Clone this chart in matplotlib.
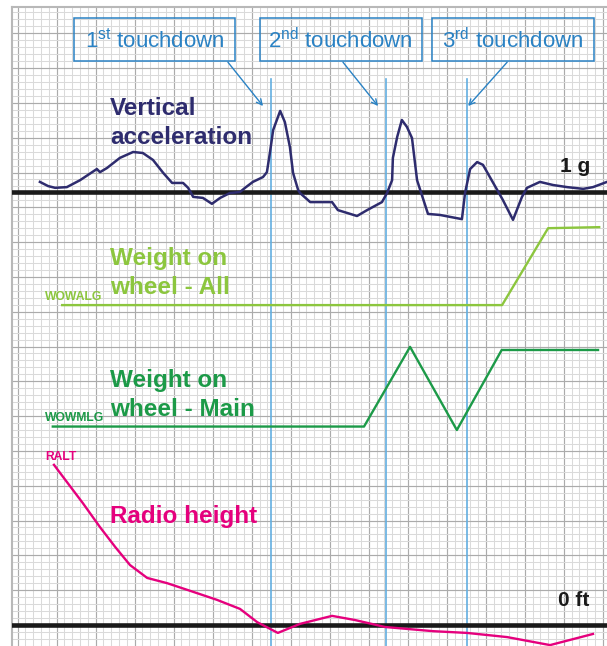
import numpy as np
import matplotlib
matplotlib.use("Agg")
import matplotlib.pyplot as plt
from matplotlib.patches import Rectangle

plt.rcParams['font.family'] = ['Liberation Sans', 'DejaVu Sans']
plt.rcParams['mathtext.fontset'] = 'custom'
plt.rcParams['mathtext.rm'] = 'Liberation Sans'

# x in seconds (1 major grid cell = 1 s), y in grid rows above the 0 ft line
acc_t = [0.57, 0.78, 0.96, 1.26, 1.60, 2.03, 2.11, 2.29, 2.62, 2.96, 3.21, 3.47, 3.73,
         3.96, 4.24, 4.37, 4.50, 4.75, 4.98, 5.19, 5.44, 5.70, 5.83, 6.03, 6.29, 6.39,
         6.47, 6.55, 6.73, 6.85, 6.98, 7.06, 7.19, 7.24, 7.50, 8.06, 8.21, 8.70, 8.96,
         9.34, 9.47, 9.60, 9.62, 9.73, 9.85, 9.98, 10.11, 10.24, 10.52, 10.83, 11.39,
         11.47, 11.60, 11.78, 11.93, 12.37, 12.44, 12.70, 12.93, 13.06, 13.39, 13.73,
         14.09, 14.50, 14.75, 15.11]
acc_v = [12.73, 12.61, 12.56, 12.58, 12.78, 13.10, 13.01, 13.13, 13.42, 13.59, 13.56, 13.36, 12.99,
         12.70, 12.70, 12.56, 12.30, 12.27, 12.10, 12.27, 12.41, 12.44, 12.56, 12.73, 12.87, 13.01,
         13.59, 14.22, 14.77, 14.45, 13.73, 12.99, 12.50, 12.41, 12.15, 12.15, 11.92, 11.75, 11.92,
         12.15, 12.41, 12.78, 13.42, 14.02, 14.51, 14.31, 13.99, 12.78, 11.81, 11.78, 11.66,
         12.41, 13.10, 13.30, 13.22, 12.35, 12.21, 11.64, 12.30, 12.56, 12.73, 12.64,
         12.58, 12.53, 12.58, 12.73]

wowalg_t = [1.14, 12.42, 13.60, 14.91]
wowalg_v = [9.19, 9.19, 11.40, 11.43]

wowmlg_t = [0.90, 8.88, 10.06, 11.26, 12.41, 14.88]
wowmlg_v = [5.70, 5.70, 7.99, 5.60, 7.90, 7.90]

ralt_t = [0.93, 1.67, 2.11, 2.50, 2.88, 3.32, 3.83, 4.50, 5.11, 5.70, 6.14, 6.67, 7.24,
          8.06, 8.65, 9.42, 10.65, 11.52, 12.55, 13.65, 14.75]
ralt_v = [4.60, 3.50, 2.81, 2.24, 1.72, 1.35, 1.20, 0.95, 0.72, 0.46, 0.08, -0.23, 0.03,
          0.26, 0.14, -0.06, -0.18, -0.23, -0.35, -0.58, -0.26]

touchdown_t = [6.49, 9.44, 11.51]
touchdown_labels = ['1$^{\\mathrm{st}}$ touchdown', '2$^{\\mathrm{nd}}$ touchdown',
                    '3$^{\\mathrm{rd}}$ touchdown']
box_left = [1.44, 6.21, 10.62]
box_right = [5.57, 10.36, 14.78]
arrow_start_t = [5.39, 8.34, 12.55]
arrow_end_t = [6.29, 9.24, 11.55]

one_g_level = 12.45
zero_ft_level = 0.0

navy = '#2e2c6e'
light_green = '#8cc63e'
dark_green = '#1c9a48'
magenta = '#e5007d'
blue = '#2a82c4'
line_blue = '#62aee0'

fig = plt.figure(figsize=(6.07, 6.46), dpi=100)
ax = fig.add_axes([12 / 607, 0, 595 / 607, 639 / 646])
ax.set_xlim(-0.146, 15.11)
ax.set_ylim(-0.606, 17.756)

# graph paper
ax.set_xticks(np.arange(0, 16, 1))
ax.set_xticks(np.arange(-0.0, 15.2, 0.2), minor=True)
ax.set_yticks(np.arange(0, 18, 1))
ax.set_yticks(np.arange(-0.6, 17.8, 0.2), minor=True)
ax.grid(which='minor', color='#dadada', lw=0.75)
ax.grid(which='major', color='#ababab', lw=0.85)
ax.tick_params(which='both', length=0, labelbottom=False, labelleft=False)
ax.set_axisbelow(True)
for side in ['right', 'bottom']:
    ax.spines[side].set_visible(False)
for side in ['left', 'top']:
    ax.spines[side].set_color('#b8b8b8')
    ax.spines[side].set_linewidth(1.5)

# reference lines
ax.axhline(one_g_level, color='#1a1a1a', lw=3.3, zorder=3)
ax.axhline(zero_ft_level, color='#1a1a1a', lw=3.3, zorder=3)
ax.text(14.67, 13.02, '1 g', ha='right', va='baseline', fontsize=15, fontweight='bold', color='#1a1a1a')
ax.text(14.67, 0.54, '0 ft', ha='right', va='baseline', fontsize=15, fontweight='bold', color='#1a1a1a')

# touchdown markers
for i in range(len(touchdown_t)):
    ax.plot([touchdown_t[i], touchdown_t[i]], [-1, 15.69], color=line_blue, lw=1.2, zorder=2)
    ax.add_patch(Rectangle((box_left[i], 16.20), box_right[i] - box_left[i], 1.24,
                           fill=False, edgecolor=blue, lw=1.1, zorder=4))
    ax.text((box_left[i] + box_right[i]) / 2, 16.80, touchdown_labels[i], ha='center', va='center',
            fontsize=16, color=blue, zorder=5)
    ax.annotate('', xy=(arrow_end_t[i], 14.91), xytext=(arrow_start_t[i], 16.17),
                arrowprops=dict(arrowstyle='->', color=blue, lw=1.0, shrinkA=0, shrinkB=0,
                                mutation_scale=10))

# traces
ax.plot(acc_t, acc_v, color=navy, lw=1.8, solid_joinstyle='round', zorder=4)
ax.plot(wowalg_t, wowalg_v, color=light_green, lw=1.7, zorder=4)
ax.plot(wowmlg_t, wowmlg_v, color=dark_green, lw=1.7, zorder=4)
ax.plot(ralt_t, ralt_v, color=magenta, lw=1.7, zorder=4)

# labels
big = dict(fontsize=17.5, fontweight='bold', va='baseline', ha='left', zorder=5)
small = dict(fontsize=8.7, fontweight='bold', va='baseline', ha='left', zorder=5)
ax.text(2.37, 14.65, 'Vertical', color=navy, **big)
ax.text(2.37, 13.82, 'acceleration', color=navy, **big)
ax.text(2.37, 10.34, 'Weight on', color=light_green, **big)
ax.text(2.37, 9.51, 'wheel - All', color=light_green, **big)
ax.text(0.70, 9.34, 'WOWALG', color=light_green, **small)
ax.text(2.37, 6.85, 'Weight on', color=dark_green, **big)
ax.text(2.37, 6.00, 'wheel - Main', color=dark_green, **big)
ax.text(0.70, 5.86, 'WOWMLG', color=dark_green, **small)
ax.text(0.70, 4.74, 'RALT', color=magenta, **small)
ax.text(2.37, 2.94, 'Radio height', color=magenta, **big)

fig.savefig('out.png', dpi=100)
